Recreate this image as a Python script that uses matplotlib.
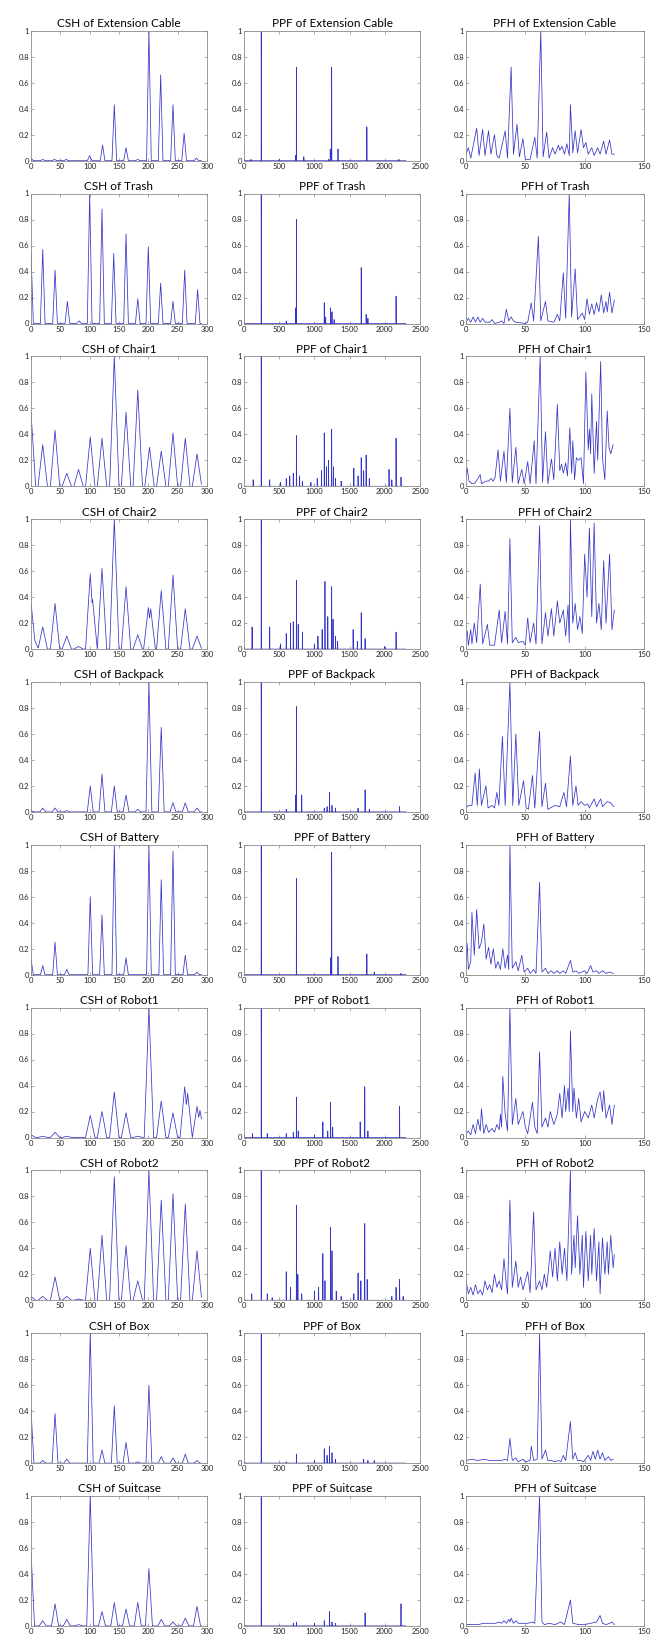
import numpy as np
import matplotlib
matplotlib.use("Agg")
import matplotlib.pyplot as plt
from matplotlib.ticker import FuncFormatter

plt.rcParams["font.family"] = ["Lato", "DejaVu Sans"]

objects = ["Extension Cable", "Trash", "Chair1", "Chair2", "Backpack",
           "Battery", "Robot1", "Robot2", "Box", "Suitcase"]

# CSH: (bin, height) of each peak
csh_ext_cable = [(0, 0.02), (20, 0.01), (40, 0.01), (60, 0.01), (100, 0.04), (122, 0.12), (142, 0.43),
                 (162, 0.10), (182, 0.01), (201, 1.0), (221, 0.66), (242, 0.43), (261, 0.21), (282, 0.02)]
csh_trash = [(0, 0.55), (20, 0.57), (41, 0.41), (62, 0.17), (82, 0.02), (100, 1.0), (121, 0.88), (141, 0.54),
             (162, 0.69), (182, 0.19), (200, 0.59), (221, 0.31), (242, 0.17), (262, 0.41), (284, 0.26)]
csh_chair1 = [(0, 0.57), (20, 0.32), (41, 0.43), (61, 0.10), (81, 0.13), (101, 0.38), (121, 0.37), (142, 1.0),
              (162, 0.57), (182, 0.74), (202, 0.30), (222, 0.27), (242, 0.41), (263, 0.37), (283, 0.25)]
csh_chair2 = [(0, 0.36), (5, 0.08), (20, 0.17), (41, 0.35), (61, 0.10), (81, 0.02), (101, 0.58), (105, 0.38),
              (121, 0.62), (142, 1.0), (162, 0.48), (182, 0.11), (200, 0.32), (204, 0.31), (222, 0.45),
              (242, 0.57), (263, 0.31), (283, 0.10)]
csh_backpack = [(0, 0.01), (20, 0.03), (41, 0.03), (61, 0.01), (101, 0.20), (121, 0.29), (142, 0.20), (162, 0.13),
                (182, 0.02), (201, 1.0), (222, 0.65), (242, 0.07), (263, 0.07), (283, 0.03)]
csh_battery = [(0, 0.12), (20, 0.07), (41, 0.25), (61, 0.04), (101, 0.60), (121, 0.46), (142, 1.0), (162, 0.13),
               (201, 1.0), (222, 0.73), (242, 0.95), (263, 0.15), (283, 0.02)]
csh_robot1 = [(0, 0.02), (20, 0.01), (41, 0.04), (61, 0.01), (101, 0.17), (121, 0.20), (142, 0.35), (162, 0.19),
              (182, 0.01), (201, 1.0), (222, 0.28), (242, 0.19), (262, 0.39), (267, 0.34), (283, 0.24), (288, 0.21)]
csh_robot2 = [(0, 0.03), (20, 0.03), (41, 0.18), (61, 0.03), (81, 0.01), (101, 0.40), (121, 0.50), (142, 0.95),
              (162, 0.42), (182, 0.15), (201, 1.0), (222, 0.77), (242, 0.82), (263, 0.74), (283, 0.38)]
csh_box = [(0, 0.41), (20, 0.02), (41, 0.38), (61, 0.03), (101, 1.0), (121, 0.10), (142, 0.44), (162, 0.16),
           (182, 0.01), (201, 0.60), (222, 0.05), (242, 0.04), (263, 0.07), (283, 0.02)]
csh_suitcase = [(0, 0.57), (20, 0.04), (41, 0.17), (61, 0.05), (81, 0.01), (101, 1.0), (121, 0.11), (142, 0.18),
                (162, 0.13), (182, 0.18), (201, 0.44), (222, 0.05), (242, 0.03), (263, 0.06), (283, 0.15)]

# PPF: (bin, height) of each spike
ppf_ext_cable = [(100, 0.01), (245, 1.0), (500, 0.01), (735, 0.04), (745, 0.72), (850, 0.03), (1200, 0.01),
                 (1225, 0.09), (1245, 0.72), (1335, 0.09), (1745, 0.26), (2200, 0.01)]
ppf_trash = [(245, 1.0), (600, 0.02), (735, 0.12), (745, 0.80), (1140, 0.16), (1160, 0.05), (1230, 0.12),
             (1250, 0.09), (1280, 0.03), (1665, 0.43), (1735, 0.07), (1760, 0.04), (2160, 0.21)]
ppf_chair1 = [(130, 0.05), (245, 1.0), (365, 0.05), (520, 0.03), (600, 0.06), (650, 0.08), (700, 0.10),
              (745, 0.39), (790, 0.08), (830, 0.04), (950, 0.03), (1040, 0.06), (1100, 0.12), (1140, 0.41),
              (1170, 0.15), (1200, 0.20), (1245, 0.44), (1270, 0.15), (1300, 0.06), (1380, 0.04), (1560, 0.14),
              (1620, 0.08), (1665, 0.22), (1700, 0.12), (1735, 0.24), (1780, 0.06), (2060, 0.13), (2100, 0.05),
              (2160, 0.37), (2230, 0.07)]
ppf_chair2 = [(115, 0.17), (245, 1.0), (365, 0.17), (520, 0.04), (600, 0.12), (660, 0.20), (700, 0.21),
              (745, 0.53), (770, 0.19), (830, 0.13), (1000, 0.04), (1050, 0.10), (1110, 0.15), (1150, 0.52),
              (1190, 0.25), (1245, 0.48), (1265, 0.23), (1300, 0.10), (1330, 0.06), (1550, 0.15), (1610, 0.06),
              (1665, 0.28), (1720, 0.08), (2000, 0.02), (2160, 0.13)]
ppf_backpack = [(245, 1.0), (600, 0.02), (735, 0.13), (745, 0.81), (820, 0.13), (1140, 0.03), (1180, 0.04),
                (1215, 0.15), (1250, 0.05), (1300, 0.03), (1620, 0.03), (1720, 0.17), (1780, 0.02), (2210, 0.04)]
ppf_battery = [(245, 1.0), (745, 0.74), (1230, 0.13), (1245, 0.94), (1335, 0.14), (1745, 0.16), (1850, 0.02),
               (2230, 0.01)]
ppf_robot1 = [(120, 0.03), (245, 1.0), (330, 0.03), (600, 0.03), (700, 0.04), (745, 0.31), (770, 0.05),
              (1000, 0.02), (1120, 0.12), (1190, 0.05), (1230, 0.27), (1260, 0.08), (1650, 0.12), (1715, 0.39),
              (1760, 0.05), (2210, 0.24)]
ppf_robot2 = [(110, 0.05), (245, 1.0), (330, 0.05), (400, 0.02), (600, 0.22), (660, 0.10), (745, 0.73),
              (765, 0.20), (820, 0.05), (1000, 0.07), (1060, 0.10), (1120, 0.36), (1150, 0.15), (1230, 0.56),
              (1250, 0.38), (1310, 0.07), (1380, 0.03), (1560, 0.05), (1620, 0.21), (1660, 0.15), (1715, 0.59),
              (1750, 0.16), (2100, 0.03), (2160, 0.10), (2210, 0.16), (2260, 0.03)]
ppf_box = [(245, 1.0), (600, 0.01), (745, 0.07), (1000, 0.02), (1140, 0.11), (1180, 0.06), (1215, 0.13),
           (1250, 0.08), (1300, 0.03), (1700, 0.03), (1760, 0.02), (1850, 0.02)]
ppf_suitcase = [(245, 1.0), (700, 0.02), (745, 0.03), (1000, 0.02), (1140, 0.04), (1215, 0.11), (1250, 0.03),
                (1300, 0.02), (1720, 0.10), (2230, 0.17)]

# PFH: (bin, value)
pfh_ext_cable = [(0, 0.05), (2, 0.10), (4, 0.02), (9, 0.25), (11, 0.04), (14, 0.24), (16, 0.04), (19, 0.23),
                 (21, 0.05), (24, 0.20), (26, 0.04), (28, 0.02), (33, 0.23), (35, 0.02), (38, 0.72), (40, 0.05),
                 (43, 0.28), (45, 0.03), (48, 0.17), (50, 0.01), (54, 0.01), (58, 0.18), (60, 0.02), (63, 1.0),
                 (65, 0.03), (68, 0.22), (70, 0.02), (73, 0.10), (75, 0.05), (78, 0.12), (79, 0.08), (81, 0.11),
                 (83, 0.05), (85, 0.13), (87, 0.04), (88, 0.43), (90, 0.06), (92, 0.23), (94, 0.06), (97, 0.24),
                 (99, 0.10), (101, 0.14), (103, 0.05), (106, 0.10), (108, 0.04), (111, 0.10), (113, 0.05),
                 (116, 0.15), (118, 0.05), (121, 0.16), (123, 0.05), (125, 0.05)]
pfh_trash = [(0, 0.01), (2, 0.04), (4, 0.01), (6, 0.05), (8, 0.01), (10, 0.05), (12, 0.01), (14, 0.04),
             (16, 0.01), (20, 0.01), (22, 0.03), (24, 0.0), (28, 0.01), (30, 0.02), (32, 0.0), (34, 0.11),
             (36, 0.02), (38, 0.05), (40, 0.02), (42, 0.01), (50, 0.0), (52, 0.01), (55, 0.16), (57, 0.02),
             (61, 0.67), (63, 0.02), (67, 0.17), (69, 0.02), (74, 0.01), (77, 0.07), (79, 0.02), (82, 0.39),
             (84, 0.04), (87, 1.0), (89, 0.05), (92, 0.42), (94, 0.03), (98, 0.08), (100, 0.03), (102, 0.19),
             (104, 0.07), (106, 0.15), (108, 0.07), (110, 0.16), (112, 0.09), (114, 0.22), (116, 0.08),
             (118, 0.17), (119, 0.09), (121, 0.24), (123, 0.08), (125, 0.18)]
pfh_chair1 = [(0, 0.05), (1, 0.14), (2.5, 0.04), (5, 0.02), (6.5, 0.02), (8, 0.03), (12, 0.09), (13, 0.02),
              (15, 0.03), (17, 0.04), (19, 0.04), (21, 0.06), (23, 0.04), (24.5, 0.07), (27, 0.28), (29, 0.04),
              (32, 0.27), (34, 0.03), (37, 0.60), (39, 0.03), (42, 0.30), (44, 0.02), (47, 0.13), (49, 0.02),
              (52, 0.19), (54, 0.02), (57.5, 0.35), (59, 0.02), (62.5, 1.0), (64.5, 0.03), (67, 0.42), (69, 0.02),
              (72, 0.21), (74, 0.05), (77, 0.63), (79, 0.12), (80.5, 0.17), (82, 0.10), (84, 0.18), (85.5, 0.08),
              (87.5, 0.45), (89, 0.10), (90, 0.35), (91.5, 0.05), (93, 0.22), (95, 0.20), (97, 0.22), (99, 0.02),
              (101, 0.88), (103, 0.28), (104, 0.44), (105, 0.25), (106, 0.71), (108, 0.10), (110, 0.50),
              (111, 0.20), (113.5, 0.96), (115, 0.22), (117, 0.05), (119, 0.58), (120.5, 0.30), (122, 0.25),
              (124, 0.32)]
pfh_chair2 = [(0, 0.10), (1, 0.14), (2, 0.03), (4, 0.15), (5, 0.04), (7, 0.20), (9, 0.05), (12, 0.50), (14, 0.04),
              (18, 0.19), (20, 0.03), (24, 0.03), (28, 0.30), (30, 0.05), (33, 0.29), (35, 0.04), (37, 0.85),
              (39, 0.05), (42, 0.09), (44, 0.05), (48, 0.06), (50, 0.03), (52, 0.24), (54, 0.05), (57, 0.20),
              (59, 0.04), (62, 0.95), (64, 0.04), (67, 0.28), (69, 0.10), (72, 0.31), (74, 0.10), (77, 0.37),
              (79, 0.20), (82, 0.30), (84, 0.10), (86, 0.34), (87, 0.05), (88, 1.0), (90, 0.20), (92, 0.35),
              (94, 0.15), (96, 0.25), (98, 0.12), (100, 0.73), (102, 0.40), (104, 0.93), (106, 0.25), (108, 0.97),
              (110, 0.20), (112, 0.35), (114, 0.15), (116, 0.68), (118, 0.20), (121, 0.73), (123, 0.15),
              (125, 0.30)]
pfh_backpack = [(0, 0.03), (2, 0.05), (5, 0.05), (7.7, 0.30), (9.5, 0.05), (11.3, 0.33), (13, 0.05), (16.8, 0.20),
                (18.6, 0.03), (22, 0.05), (24, 0.03), (26, 0.15), (27.7, 0.05), (30.7, 0.58), (33, 0.05), (37, 1.0),
                (39.4, 0.05), (42, 0.60), (44.5, 0.05), (48.5, 0.24), (50.7, 0.03), (52.6, 0.02), (56, 0.28),
                (58, 0.03), (62, 0.62), (64, 0.04), (67, 0.22), (69, 0.02), (75, 0.05), (79, 0.04), (82.5, 0.15),
                (84.7, 0.04), (88, 0.43), (90, 0.05), (92.7, 0.20), (94.5, 0.05), (97, 0.08), (100, 0.05),
                (102.6, 0.06), (104, 0.03), (108, 0.10), (110, 0.04), (113.5, 0.10), (115, 0.04), (119, 0.08),
                (122, 0.07), (124.5, 0.04)]
pfh_battery = [(0, 0.05), (1, 0.24), (2, 0.04), (4, 0.10), (5, 0.48), (7, 0.15), (9, 0.50), (11, 0.20), (13, 0.25),
               (15, 0.39), (17, 0.12), (19, 0.21), (21, 0.08), (23, 0.20), (25, 0.05), (27, 0.10), (29, 0.04),
               (31, 0.20), (33, 0.05), (35, 0.15), (36, 0.04), (37, 1.0), (39, 0.05), (42, 0.10), (44, 0.03),
               (47, 0.15), (49, 0.02), (52, 0.05), (54, 0.01), (57, 0.04), (59, 0.01), (62, 0.71), (64, 0.02),
               (67, 0.05), (69, 0.01), (72, 0.03), (74, 0.01), (77, 0.03), (79, 0.01), (82, 0.03), (84, 0.01),
               (88, 0.11), (90, 0.02), (93, 0.03), (95, 0.01), (100, 0.03), (102, 0.01), (105, 0.07), (107, 0.02),
               (110, 0.03), (112, 0.01), (115, 0.03), (118, 0.01), (121, 0.02), (124, 0.01)]
pfh_robot1 = [(0, 0.03), (2, 0.05), (4, 0.02), (6, 0.10), (8, 0.03), (10, 0.14), (12, 0.05), (13, 0.22), (15, 0.03),
              (17, 0.10), (19, 0.04), (22, 0.07), (24, 0.04), (26, 0.10), (28, 0.06), (29, 0.18), (30, 0.08),
              (31, 0.47), (33, 0.18), (35, 0.05), (37, 1.0), (39, 0.10), (42, 0.30), (44, 0.10), (48, 0.20),
              (50, 0.08), (52, 0.03), (56, 0.27), (58, 0.08), (60, 0.03), (62, 0.66), (64, 0.08), (67, 0.15),
              (69, 0.08), (71, 0.20), (74, 0.10), (77, 0.18), (79, 0.34), (81, 0.15), (83, 0.40), (84, 0.20),
              (86, 0.38), (87, 0.20), (88, 0.82), (90, 0.20), (91, 0.38), (93, 0.15), (95, 0.30), (97, 0.12),
              (100, 0.20), (103, 0.15), (106, 0.25), (108, 0.15), (111, 0.30), (113, 0.35), (115, 0.20),
              (116, 0.36), (118, 0.15), (121, 0.25), (123, 0.10), (125, 0.25)]
pfh_robot2 = [(0, 0.15), (2, 0.05), (4, 0.10), (6, 0.04), (8, 0.12), (10, 0.05), (12, 0.08), (14, 0.04),
              (16, 0.15), (18, 0.08), (20, 0.12), (22, 0.06), (24, 0.20), (26, 0.10), (28, 0.15), (30, 0.08),
              (32, 0.32), (34, 0.12), (35, 0.05), (37, 0.77), (39, 0.10), (42, 0.30), (44, 0.10), (46, 0.18),
              (48, 0.08), (52, 0.22), (54, 0.06), (57, 0.68), (59, 0.08), (62, 0.15), (64, 0.08), (66, 0.20),
              (68, 0.10), (71, 0.38), (73, 0.18), (75, 0.40), (77, 0.15), (79, 0.45), (81, 0.20), (83, 0.40),
              (85, 0.15), (88, 1.0), (89, 0.20), (91, 0.50), (92, 0.25), (94, 0.65), (96, 0.20), (98, 0.50),
              (99, 0.10), (101, 0.53), (103, 0.15), (105, 0.50), (106, 0.20), (108, 0.55), (110, 0.15),
              (112, 0.45), (113, 0.05), (115, 0.48), (117, 0.20), (119, 0.45), (120, 0.20), (122, 0.50),
              (124, 0.25), (125, 0.35)]
pfh_box = [(0, 0.02), (5, 0.03), (10, 0.02), (15, 0.03), (20, 0.02), (25, 0.02), (30, 0.02), (33, 0.03), (35, 0.02),
           (37, 0.19), (39, 0.02), (42, 0.04), (44, 0.01), (48, 0.03), (50, 0.01), (54, 0.02), (55, 0.13),
           (57, 0.02), (60, 0.03), (62, 1.0), (64, 0.03), (67, 0.10), (69, 0.02), (72, 0.02), (75, 0.01),
           (78, 0.02), (80, 0.01), (82, 0.06), (84, 0.02), (88, 0.32), (90, 0.03), (92, 0.08), (94, 0.02),
           (97, 0.02), (99, 0.01), (103, 0.06), (105, 0.02), (107, 0.09), (109, 0.03), (111, 0.10), (113, 0.03),
           (115, 0.08), (117, 0.02), (120, 0.05), (122, 0.02), (124, 0.03)]
pfh_suitcase = [(0, 0.01), (5, 0.01), (10, 0.01), (15, 0.02), (20, 0.02), (25, 0.02), (28, 0.03), (30, 0.02),
                (32, 0.04), (34, 0.02), (36, 0.05), (37, 0.03), (38, 0.06), (40, 0.02), (42, 0.04), (44, 0.02),
                (48, 0.02), (52, 0.02), (56, 0.03), (58, 0.02), (62, 1.0), (64, 0.03), (66, 0.01), (70, 0.02),
                (75, 0.01), (80, 0.03), (83, 0.01), (88, 0.20), (90, 0.02), (95, 0.01), (100, 0.01), (105, 0.02),
                (110, 0.03), (113, 0.08), (115, 0.02), (118, 0.01), (121, 0.02), (123, 0.03), (125, 0.01)]

csh_data = [csh_ext_cable, csh_trash, csh_chair1, csh_chair2, csh_backpack,
            csh_battery, csh_robot1, csh_robot2, csh_box, csh_suitcase]
ppf_data = [ppf_ext_cable, ppf_trash, ppf_chair1, ppf_chair2, ppf_backpack,
            ppf_battery, ppf_robot1, ppf_robot2, ppf_box, ppf_suitcase]
pfh_data = [pfh_ext_cable, pfh_trash, pfh_chair1, pfh_chair2, pfh_backpack,
            pfh_battery, pfh_robot1, pfh_robot2, pfh_box, pfh_suitcase]

# style: peak half width per CSH panel (bins)
csh_half_width = [4, 4, 8, 8, 5, 4, 8, 8, 5, 6]

LINE = "#3434c8"
FRAME = "#8a8a8a"
W, H = 661, 1638


def peak_curve(peaks, x, half_width):
    y = np.zeros_like(x)
    for c, h in peaks:
        y = np.maximum(y, h * np.clip(1 - np.abs(x - c) / half_width, 0, None))
    return y


def style_axes(ax, xmax, xticks):
    ax.set_xlim(0, xmax)
    ax.set_ylim(0, 1)
    ax.set_xticks(xticks)
    ax.set_yticks([0, 0.2, 0.4, 0.6, 0.8, 1.0])
    ax.yaxis.set_major_formatter(FuncFormatter(lambda v, _: f"{v:g}"))
    ax.tick_params(direction="in", length=2, width=0.5, top=True, right=True,
                   labelsize=5.5, pad=1.5, color=FRAME, labelcolor="#222222")
    for spine in ax.spines.values():
        spine.set_color(FRAME)
        spine.set_linewidth(0.6)


fig = plt.figure(figsize=(W / 100, H / 100), dpi=100)

col_left = [31, 244, 466]
col_width = [176, 176, 178]
row_top0, row_pitch, row_height = 30.7, 162.8, 130

x_csh = np.arange(0, 291, 0.5)
x_ppf = np.arange(0, 2301, 1.0)

for i, name in enumerate(objects):
    top = row_top0 + i * row_pitch
    axes = []
    for j in range(3):
        rect = [col_left[j] / W, 1 - (top + row_height) / H, col_width[j] / W, row_height / H]
        axes.append(fig.add_axes(rect))
    ax_csh, ax_ppf, ax_pfh = axes

    ax_csh.plot(x_csh, peak_curve(csh_data[i], x_csh, csh_half_width[i]), color=LINE, lw=0.55)
    style_axes(ax_csh, 300, range(0, 301, 50))
    ax_csh.set_title(f"CSH of {name}", fontsize=8.5, pad=2.5)

    ax_ppf.plot(x_ppf, peak_curve(ppf_data[i], x_ppf, 2), color=LINE, lw=0.55)
    style_axes(ax_ppf, 2500, range(0, 2501, 500))
    ax_ppf.set_title(f"PPF of {name}", fontsize=8.5, pad=2.5)

    px = [p[0] for p in pfh_data[i]]
    py = [p[1] for p in pfh_data[i]]
    ax_pfh.plot(px, py, color=LINE, lw=0.55)
    style_axes(ax_pfh, 150, [0, 50, 100, 150])
    ax_pfh.set_title(f"PFH of {name}", fontsize=8.5, pad=2.5)

fig.savefig("out.png", dpi=100)
